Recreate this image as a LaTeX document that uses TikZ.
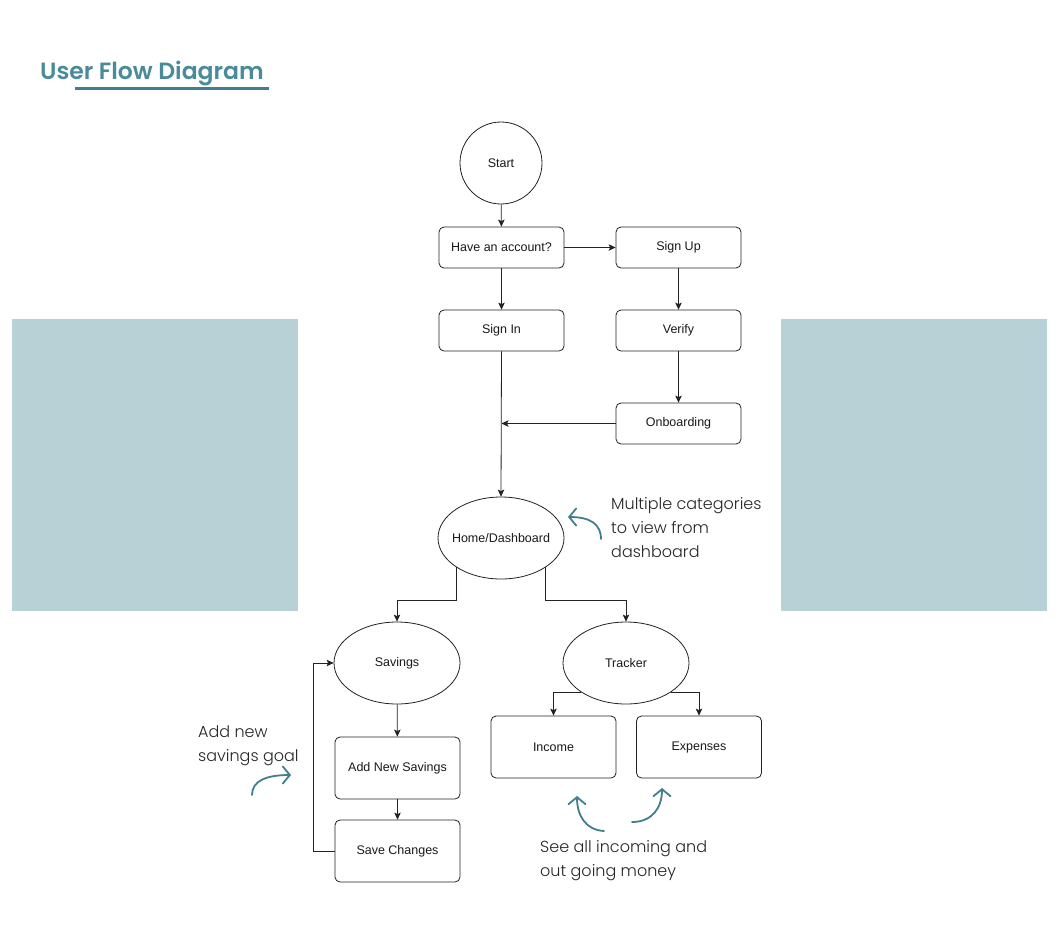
\documentclass[tikz,border=0pt]{standalone}
\usepackage{fontspec}
\setmainfont{Liberation Sans}
\IfFontExistsTF{Poppins Light}{\newfontfamily\popfont{Poppins Light}}{\newfontfamily\popfont{Poppins}}
\IfFontExistsTF{Poppins SemiBold}{\newfontfamily\poptitle{Poppins SemiBold}}{\newfontfamily\poptitle{Poppins}[UprightFont=*,BoldFont=* Bold]}
\usetikzlibrary{shapes.geometric,arrows.meta}
\definecolor{teal1}{HTML}{4A8B9B}
\definecolor{tealdark}{HTML}{3F7F8F}
\definecolor{panel}{HTML}{B7D1D7}
\definecolor{linec}{HTML}{222222}
\tikzset{
  flowbox/.style={draw=linec,line width=0.8pt,rounded corners=5pt,minimum width=125pt,minimum height=41pt,inner sep=0pt,font=\fontsize{12.5}{14}\selectfont,text=black!90},
  tallbox/.style={flowbox,minimum height=62pt},
  oval/.style={draw=linec,line width=0.8pt,ellipse,minimum width=126pt,minimum height=82pt,inner sep=0pt,font=\fontsize{12.5}{14}\selectfont,text=black!90},
  roundnode/.style={draw=linec,line width=0.8pt,circle,minimum size=82pt,inner sep=0pt,font=\fontsize{12.5}{14}\selectfont,text=black!90},
  arr/.style={draw=linec,line width=0.8pt,-{Stealth[length=7pt,width=6.5pt,inset=1.5pt]}},
  note/.style={anchor=base west,inner sep=0pt,font=\popfont\fontsize{16}{18}\selectfont,text=black!85},
  hint/.style={draw=tealdark,line width=1.8pt,line cap=round,-{Straight Barb[length=7pt,width=17pt,line cap=round]}}
}
\begin{document}
\begin{tikzpicture}[x=1pt,y=-1pt]
\useasboundingbox (0,0) rectangle (1060,930);
\fill[white] (0,0) rectangle (1060,930);
% side panels
\fill[panel] (12,319) rectangle (298,611);
\fill[panel] (781,319) rectangle (1047,611);
% title
\node[anchor=base west,inner sep=0pt,text=teal1,font=\poptitle\fontsize{23.5}{28}\selectfont] (title) at (40,79) {User Flow Diagram};
\draw[tealdark,line width=3pt] (75,88) -- (269,88);
% nodes
\node[roundnode] (start) at (501,163) {Start};
\node[flowbox] (have) at (501.5,247.5) {Have an account?};
\node[flowbox] (signup) at (678.5,247.5) {Sign Up};
\node[flowbox] (signin) at (501.5,330.5) {Sign In};
\node[flowbox] (verify) at (678.5,330.5) {Verify};
\node[flowbox] (onb) at (678.5,423.5) {Onboarding};
\node[oval] (home) at (501,538) {\makebox[0pt]{Home/Dashboard}};
\node[oval] (sav) at (397,663) {\makebox[0pt]{Savings}};
\node[oval] (trk) at (626,663) {\makebox[0pt]{Tracker}};
\node[tallbox] (addnew) at (397.5,768) {Add New Savings};
\node[tallbox] (save) at (397.5,851) {Save Changes};
\node[tallbox] (inc) at (553.5,747) {Income};
\node[tallbox] (exp) at (699,747) {Expenses};
% connectors
\draw[arr] (start) -- (have);
\draw[arr] (have) -- (signup);
\draw[arr] (have) -- (signin);
\draw[arr] (signup) -- (verify);
\draw[arr] (verify) -- (onb);
\draw[arr] (onb.west) -- (signin.south |- onb.west);
\draw[arr] (signin.south) -- (home.north);
\draw[arr] (home.south west) -- ++(0,33) -| (sav.north);
\draw[arr] (home.south east) -- ++(0,33) -| (trk.north);
\draw[arr] (sav) -- (addnew);
\draw[arr] (addnew) -- (save);
\draw[arr] (save.west) -- ++(-21,0) |- (sav.west);
\draw[arr] (trk.south west) -| (inc.north);
\draw[arr] (trk.south east) -| (exp.north);
% annotations
\node[note] (n1a) at (611,509) {Multiple categories};
\node[note] (n1b) at (611,533) {to view from};
\node[note] (n1c) at (611,557) {dashboard};
\node[note] (n2a) at (198,737) {Add new};
\node[note] (n2b) at (198,761) {savings goal};
\node[note] (n3a) at (540,852) {See all incoming and};
\node[note] (n3b) at (540,876) {out going money};
\draw[hint] (601,539) .. controls (601,524) and (590,517) .. (568,517);
\draw[hint] (252,795) .. controls (252,781) and (266,775) .. (291,775);
\draw[hint] (604,831) .. controls (586,830) and (577,816) .. (577,796);
\draw[hint] (632,822) .. controls (652,822) and (662,808) .. (662,788);
\end{tikzpicture}
\end{document}
